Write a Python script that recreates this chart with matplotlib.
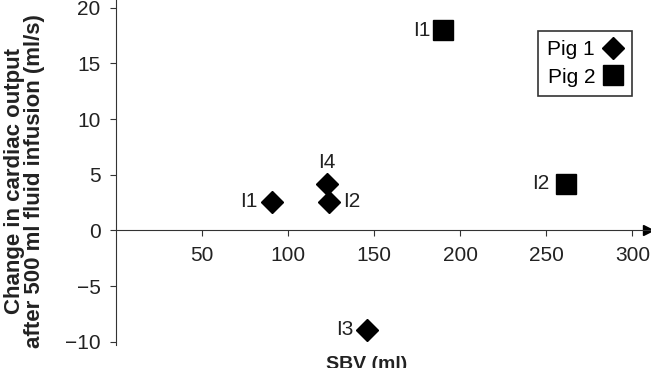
import matplotlib.pyplot as plt

plt.rcParams['font.family'] = ['Liberation Sans', 'DejaVu Sans']

# Pig 1 (diamonds)
pig1_sbv = [90.5, 122.5, 124, 146]
pig1_dco = [2.6, 4.2, 2.6, -8.9]
pig1_lab = ['I1', 'I4', 'I2', 'I3']

# Pig 2 (squares)
pig2_sbv = [190, 261.5]
pig2_dco = [18.0, 4.2]
pig2_lab = ['I1', 'I2']

fig = plt.figure(figsize=(6.51, 3.68), dpi=100)
ax = fig.add_axes([0.178, 0.062, 0.82, 0.938])

ax.plot(pig1_sbv, pig1_dco, 'D', color='black', markersize=11, label='Pig 1', clip_on=False)
ax.plot(pig2_sbv, pig2_dco, 's', color='black', markersize=14, label='Pig 2', clip_on=False)

# label positions relative to marker (offset in points, ha)
off1 = [(-10, 0, 'right'), (0, 15, 'center'), (10, 0, 'left'), (-10, 0, 'right')]
off2 = [(-9, 0, 'right'), (-12, 0, 'right')]
for x, y, t, o in zip(pig1_sbv, pig1_dco, pig1_lab, off1):
    ax.annotate(t, (x, y), xytext=(o[0], o[1]), textcoords='offset points',
                ha=o[2], va='center', fontsize=15, color='#222222')
for x, y, t, o in zip(pig2_sbv, pig2_dco, pig2_lab, off2):
    ax.annotate(t, (x, y), xytext=(o[0], o[1]), textcoords='offset points',
                ha=o[2], va='center', fontsize=15, color='#222222')

ax.set_xlim(0, 310)
ax.set_ylim(-10.3, 20.7)
ax.set_xticks([50, 100, 150, 200, 250, 300])
ax.set_yticks([-10, -5, 0, 5, 10, 15, 20])
ax.set_yticklabels(['\u221210', '\u22125', '0', '5', '10', '15', '20'])
ax.tick_params(labelsize=15, direction='out', length=4, colors='#333333', labelcolor='#222222')
ax.tick_params(axis='x', pad=7)
ax.tick_params(axis='y', pad=7)

ax.spines['top'].set_visible(False)
ax.spines['right'].set_visible(False)
ax.spines['bottom'].set_position(('data', 0))
ax.spines['left'].set_color('#333333')
ax.spines['bottom'].set_color('#333333')
ax.plot(0.996, 0, '>', color='black', markersize=7, transform=ax.get_yaxis_transform(), clip_on=False)

ax.set_ylabel('Change in cardiac output\nafter 500 ml fluid infusion (ml/s)',
              fontsize=16, fontweight='bold', linespacing=0.95, color='#222222')
ax.yaxis.set_label_coords(-0.132, 0.475)
fig.text(0.563, 0.01, 'SBV (ml)', fontsize=14, fontweight='bold', ha='center', va='center',
         color='#222222')

leg = ax.legend(loc='upper right', bbox_to_anchor=(0.966, 0.91), markerfirst=False, fontsize=15,
                frameon=True, fancybox=False, edgecolor='black', handlelength=0.9,
                handletextpad=0.4, borderpad=0.45, labelspacing=0.4, borderaxespad=0)
leg.get_frame().set_linewidth(1.2)

plt.savefig('out.png', dpi=100)
